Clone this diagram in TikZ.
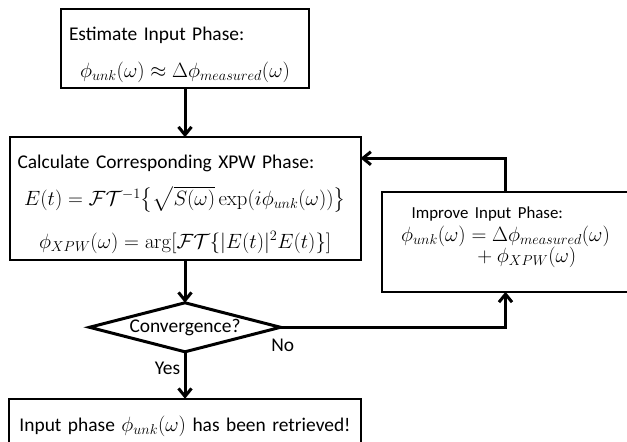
\documentclass[tikz,border=0pt]{standalone}
\usepackage{amsmath}
\usepackage[no-math]{fontspec}
\setmainfont{Carlito}
\usetikzlibrary{positioning,shapes.geometric,arrows.meta}

\begin{document}
\begin{tikzpicture}[
        phasebox/.style={
            rectangle, draw = black, line width = 2bp, outer sep = 0pt, inner ysep = 0pt, inner xsep = 8bp, align = center, font = \fontsize{19.5}{23}\selectfont
        },
        decision/.style={
            diamond, draw = black, line width = 3bp, outer sep = 0pt, inner sep = 0pt, aspect = 4, font = \fontsize{19.5}{23}\selectfont
        },
        answer/.style={
            font = \fontsize{19.5}{23}\selectfont
        },
        flow/.style={
            line width = 3bp, -{Straight Barb[length=8bp,width=13bp]}
        },
    ]
        \useasboundingbox (0,0) rectangle (627bp,-442bp);
        \clip (0,0) rectangle (627bp,-442bp);

        \node (estimate) [phasebox,text width=232bp] at (185bp,-48.65bp) {\rule{0pt}{31.7bp}\smash{Estimate Input Phase:}\hfill\null\\[13.6bp] \smash{$\phi_{unk}(\omega) \approx \Delta\phi_{measured}(\omega)$}\rule[-11bp]{0pt}{11bp}};

        \node (calc) [phasebox,text width=335bp,below=49bp of estimate] {\rule{0pt}{31bp}\smash{Calculate Corresponding XPW Phase:}\hfill\null\\[14.4bp] \smash{$E(t) = \mathcal{F}\mathcal{T}^{-1}\bigl\{\sqrt{S(\omega)}\exp(i\phi_{unk}(\omega))\bigr\}$}\\[19.6bp] \smash{$\phi_{XPW}(\omega) = \arg[\mathcal{F}\mathcal{T}\{|E(t)|^2E(t)\}]$}\rule[-11.7bp]{0pt}{11.7bp}};
        \path (estimate) edge[flow] (calc);

        \node (improve) [phasebox,text width=232bp,right=21bp of calc.north east,anchor=north west,yshift=-55.2bp] {\rule{0pt}{25.8bp}\hspace*{22.2bp}\smash{\fontsize{16.9}{20}\selectfont Improve Input Phase:}\hfill\null\\[0.4bp] \smash{$\phi_{unk}(\omega) = \Delta\phi_{measured}(\omega)$}\\[-2bp] \hspace*{38bp}\smash{${}+\phi_{XPW}(\omega)$}\rule[-29.3bp]{0pt}{29.3bp}};
        \draw[flow] (improve.north) |- ([yshift=-21bp]calc.north east);

        \node (converge) [decision,minimum width=191bp,minimum height=49bp,below=43bp of calc] {Convergence?};
        \path (calc) edge[flow] (converge);
        \draw[flow] (converge.east) -| node[answer,pos=0.005,below=10bp,inner sep=0pt] {No} (improve.south);

        \node (retrieved) [phasebox,text width=336bp,below=47bp of converge] {\rule{0pt}{32.7bp}Input phase $\phi_{unk}(\omega)$ has been retrieved!\rule[-16bp]{0pt}{16bp}};
        \path (converge) edge[flow] node[answer,pos=0.36,left] {Yes} (retrieved);

    \end{tikzpicture}
\end{document}
